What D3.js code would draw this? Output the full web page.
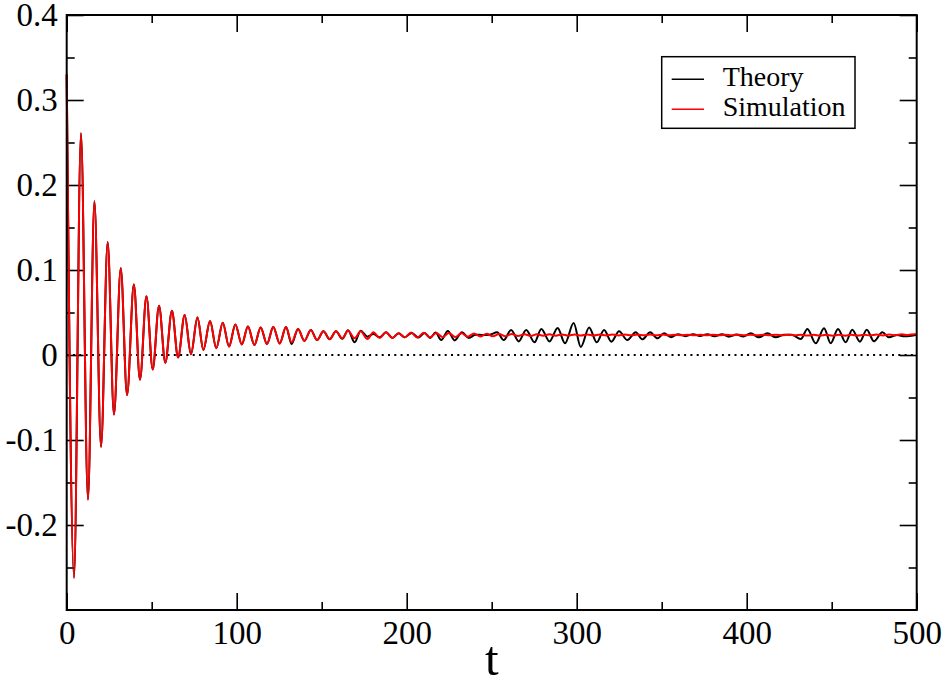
<!DOCTYPE html>
<html>
<head>
<meta charset="utf-8">
<script src="https://cdn.jsdelivr.net/npm/d3@7"></script>
<style>
  body { margin: 0; background: #fff; }
  svg { display: block; font-family: "Liberation Serif", "DejaVu Serif", serif; }
  svg text { font-family: "Liberation Serif", "DejaVu Serif", serif; }
</style>
</head>
<body>
<div id="chart"></div>
<script>
// shared part of both curves (peaks / troughs)
const common_t = [0, 4.3, 8.4, 12.5, 16.3, 20.2, 24.1, 27.8, 31.8, 35.5, 39.5, 43.1, 46.9, 50.6,
    54.3, 58.0, 61.9, 65.5, 69.4, 73.1, 76.9, 80.4, 84.3, 88.0, 91.8, 95.5, 99.2, 103.0,
    106.6, 110.4, 114.1, 117.8, 121.5, 125.3, 129.0]
const common_v = [0.330, -0.262, 0.261, -0.170, 0.181, -0.108, 0.133, -0.070, 0.102, -0.047,
    0.083, -0.029, 0.069, -0.017, 0.058, -0.009, 0.052, -0.003, 0.047, 0.001, 0.044, 0.006,
    0.040, 0.008, 0.038, 0.010, 0.036, 0.0125, 0.0335, 0.0118, 0.0325, 0.013, 0.0328, 0.0135, 0.0328]

const theory_t = [132.3, 136.1, 139.8, 143.6, 147.3, 151.0, 154.7, 158.4, 162.1, 165.5, 169.4,
    172.9, 176.9, 180.4, 184.1, 187.8, 191.6, 195.2, 198.8, 203.0, 206.8, 210.5, 213.8, 217.0,
    220.3, 224.2, 228.2, 232.5, 236.5, 240.5, 244.5, 248.5, 253.2, 257.1, 261.4, 265.9, 270.3,
    275.2, 279.2, 284.0, 288.8, 293.1, 298.2, 302.4, 307.3, 311.8, 316.1, 320.4, 324.9, 329.8,
    334.7, 338.6, 343.2, 347.5, 351.4, 355.5, 359.5, 364.0, 368.5, 372.5, 377.0, 381.0, 385.5,
    389.5, 394.0, 398.0, 402.4, 407.2, 412.2, 417.1, 422.0, 426.5, 431.8, 435.7, 440.6, 445.5,
    449.4, 453.7, 458.2, 462.1, 466.6, 470.6, 474.9, 479.8, 483.7, 488.5, 493.0, 500.0]
const theory_v = [0.0129, 0.0306, 0.0165, 0.0294, 0.0176, 0.0280, 0.0186, 0.0280, 0.0190, 0.0290,
    0.0149, 0.0286, 0.0216, 0.0247, 0.0208, 0.0267, 0.0200, 0.0255, 0.0208, 0.0260, 0.0205,
    0.0260, 0.0200, 0.0265, 0.0176, 0.0283, 0.0172, 0.0267, 0.0200, 0.0238, 0.0236, 0.0238,
    0.0267, 0.0176, 0.0294, 0.0160, 0.0294, 0.0149, 0.0306, 0.0160, 0.0318, 0.0137, 0.0376,
    0.0095, 0.0325, 0.0149, 0.0294, 0.0157, 0.0278, 0.0176, 0.0267, 0.0184, 0.0267, 0.0196,
    0.0255, 0.0210, 0.0245, 0.0222, 0.0245, 0.0225, 0.0245, 0.0220, 0.0245, 0.0215, 0.0240,
    0.0218, 0.0255, 0.0208, 0.0255, 0.0208, 0.0239, 0.0237, 0.0188, 0.0306, 0.0137, 0.0314,
    0.0137, 0.0306, 0.0149, 0.0298, 0.0157, 0.0298, 0.0161, 0.0267, 0.0208, 0.0235, 0.0220, 0.0239]

const sim_t = [132.3, 136.1, 139.8, 143.6, 147.3, 151.0, 154.7, 158.4, 162.1, 165.5, 169.4, 172.9,
    176.9, 180.4, 184.1, 187.8, 191.6, 195.2, 198.8, 202.6, 206.3, 210.0, 213.7, 217.4, 221.1,
    224.8, 228.5, 232.2, 235.9, 239.6, 243.3, 247.0, 250.7, 254.4, 258.1, 261.8, 265.5, 269.2,
    272.9, 276.6, 280.3, 284.0, 287.7, 291.4, 295.1, 298.8, 302.5, 306.2, 309.9, 313.6, 317.3,
    321.0, 324.7, 328.4, 332.1, 335.8, 339.5, 343.2, 346.9, 350.6, 354.3, 358.0, 361.7, 365.4,
    369.1, 372.8, 376.5, 380.2, 383.9, 387.6, 391.3, 395.0, 398.7, 402.4, 406.1, 409.8, 413.5,
    417.2, 420.9, 424.6, 428.3, 432.0, 435.7, 439.4, 443.1, 446.8, 450.5, 454.2, 457.9, 461.6,
    465.3, 469.0, 472.7, 476.4, 480.1, 483.8, 487.5, 491.2, 494.9, 498.6, 500.0]
const sim_v = [0.0149, 0.0306, 0.0169, 0.0294, 0.0176, 0.0278, 0.0188, 0.0278, 0.0196, 0.0286,
    0.0196, 0.0278, 0.0188, 0.0267, 0.0200, 0.0267, 0.0200, 0.0255, 0.0208, 0.0265, 0.0205,
    0.0262, 0.0208, 0.0260, 0.0210, 0.0258, 0.0212, 0.0255, 0.0215, 0.0252, 0.0218, 0.0250,
    0.0220, 0.0248, 0.0222, 0.0246, 0.0224, 0.0245, 0.0225, 0.0244, 0.0226, 0.0243, 0.0227,
    0.0242, 0.0228, 0.0242, 0.0229, 0.0241, 0.0229, 0.0241, 0.0230, 0.0241, 0.0230, 0.0240,
    0.0231, 0.0240, 0.0231, 0.0240, 0.0231, 0.0240, 0.0231, 0.0239, 0.0232, 0.0239, 0.0232,
    0.0239, 0.0232, 0.0239, 0.0232, 0.0239, 0.0232, 0.0239, 0.0232, 0.0239, 0.0231, 0.0239,
    0.0231, 0.0238, 0.0231, 0.0238, 0.0230, 0.0238, 0.0228, 0.0237, 0.0226, 0.0237, 0.0226,
    0.0238, 0.0227, 0.0238, 0.0228, 0.0239, 0.0229, 0.0240, 0.0230, 0.0241, 0.0232, 0.0243,
    0.0235, 0.0245, 0.0244]

const x_major = [0, 100, 200, 300, 400, 500]
const x_minor = [50, 150, 250, 350, 450]
const y_major = [-0.2, -0.1, 0, 0.1, 0.2, 0.3, 0.4]
const y_minor = [-0.25, -0.15, -0.05, 0.05, 0.15, 0.25, 0.35]
const series_names = ["Theory", "Simulation"]
const series_colors = ["#000000", "#ff0000"]

function zip(ts, vs) {
    var out = []
    for (var i = 0; i < ts.length; ++i) out.push({ t: ts[i], v: vs[i] })
    return out
}

function draw_chart() {
    var width = 945
    var height = 685
    var serif = "'Liberation Serif', 'DejaVu Serif', serif"
    var padding = { left: 66.7, right: 28.3, top: 15, bottom: 75 }
    var x_scale = d3.scaleLinear().domain([0, 500]).range([padding.left, width - padding.right])
    var y_scale = d3.scaleLinear().domain([-0.3, 0.4]).range([height - padding.bottom, padding.top])
    var x0 = x_scale(0), x1 = x_scale(500), y0 = y_scale(-0.3), y1 = y_scale(0.4)

    var svg = d3.select("#chart").append("svg")
        .attr("width", width)
        .attr("height", height)
    svg.append("rect").attr("width", width).attr("height", height).attr("fill", "#fff")

    var fmt = function (d) { return d === 0 ? "0" : String(+d.toFixed(1)) }
    var none = function () { return "" }

    // ticks on all four sides, pointing inward
    var axes = [
        { ax: d3.axisBottom(x_scale).tickValues(x_major).tickSizeInner(-17).tickPadding(11).tickFormat(d3.format("d")), tr: "translate(0," + y0 + ")" },
        { ax: d3.axisBottom(x_scale).tickValues(x_minor).tickSizeInner(-8).tickFormat(none), tr: "translate(0," + y0 + ")" },
        { ax: d3.axisTop(x_scale).tickValues(x_major).tickSizeInner(-17).tickFormat(none), tr: "translate(0," + y1 + ")" },
        { ax: d3.axisTop(x_scale).tickValues(x_minor).tickSizeInner(-8).tickFormat(none), tr: "translate(0," + y1 + ")" },
        { ax: d3.axisLeft(y_scale).tickValues(y_major).tickSizeInner(-17).tickPadding(9).tickFormat(fmt), tr: "translate(" + x0 + ",0)" },
        { ax: d3.axisLeft(y_scale).tickValues(y_minor).tickSizeInner(-8).tickFormat(none), tr: "translate(" + x0 + ",0)" },
        { ax: d3.axisRight(y_scale).tickValues(y_major).tickSizeInner(-17).tickFormat(none), tr: "translate(" + x1 + ",0)" },
        { ax: d3.axisRight(y_scale).tickValues(y_minor).tickSizeInner(-8).tickFormat(none), tr: "translate(" + x1 + ",0)" }
    ]
    axes.forEach(function (a) {
        var g = svg.append("g").attr("transform", a.tr).call(a.ax.tickSizeOuter(0))
        g.attr("font-family", serif).attr("font-size", 33)
        g.select(".domain").remove()
        g.selectAll(".tick line").attr("stroke", "#000").attr("stroke-width", 1.6)
        g.selectAll(".tick text")
            .attr("fill", "#000")
            .attr("font-family", serif)
            .style("font-size", "33px")
    })

    // dotted zero line
    svg.append("line")
        .attr("x1", x0).attr("x2", x1)
        .attr("y1", y_scale(0)).attr("y2", y_scale(0))
        .attr("stroke", "#000").attr("stroke-width", 2)
        .attr("stroke-dasharray", "2 4.3")

    var line = d3.line()
        .x(function (d) { return x_scale(d.t) })
        .y(function (d) { return y_scale(d.v) })
        .curve(d3.curveMonotoneX)

    var theory = zip(common_t.concat(theory_t), common_v.concat(theory_v))
    var sim = zip(common_t.concat(sim_t), common_v.concat(sim_v))

    svg.append("path").datum(theory)
        .attr("d", line).attr("fill", "none")
        .attr("stroke", series_colors[0]).attr("stroke-width", 2)
    svg.append("path").datum(sim)
        .attr("d", line).attr("fill", "none")
        .attr("stroke", series_colors[1]).attr("stroke-width", 2)

    // frame
    svg.append("rect")
        .attr("x", x0).attr("y", y1)
        .attr("width", x1 - x0).attr("height", y0 - y1)
        .attr("fill", "none").attr("stroke", "#000").attr("stroke-width", 2)

    // axis title
    svg.append("text")
        .attr("x", (x0 + x1) / 2)
        .attr("y", 675)
        .attr("text-anchor", "middle")
        .attr("font-family", serif)
        .style("font-size", "49px")
        .text("t")

    // legend
    var lg = svg.append("g").attr("font-family", serif)
    lg.append("rect")
        .attr("x", 661.7).attr("y", 56.7).attr("width", 193.3).attr("height", 71.6)
        .attr("fill", "#fff").attr("stroke", "#000").attr("stroke-width", 1.5)
    series_names.forEach(function (name, i) {
        var yy = 79.3 + i * 30
        lg.append("line")
            .attr("x1", 671.7).attr("x2", 704)
            .attr("y1", yy).attr("y2", yy)
            .attr("stroke", series_colors[i]).attr("stroke-width", 1.5)
        lg.append("text")
            .attr("x", 722.7).attr("y", yy + 7)
            .style("font-size", "28px")
            .text(name)
    })
}

draw_chart()
</script>
</body>
</html>
